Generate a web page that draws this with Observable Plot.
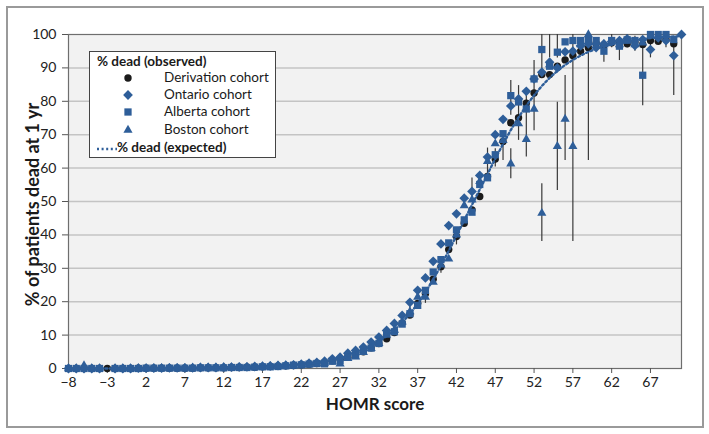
<!DOCTYPE html>
<html><head><meta charset="utf-8">
<script src="https://cdn.jsdelivr.net/npm/d3@7"></script>
<script src="https://cdn.jsdelivr.net/npm/@observablehq/plot@0.6"></script>
<style>
html,body{margin:0;padding:0;background:#fff;}
#wrap{position:relative;width:709px;height:434px;font-family:Lato,sans-serif;}
#border{position:absolute;left:6px;top:6px;width:694px;height:418px;border:2px solid #9a9a9a;}
#chart{position:absolute;left:0;top:0;}
#legend{position:absolute;left:89px;top:51px;width:187px;height:107px;background:#fff;border:1px solid #444;box-sizing:border-box;font-size:13.5px;color:#1a1a1a;}
#legend .t{position:absolute;left:7px;font-weight:bold;white-space:nowrap;}
#legend .r{position:absolute;left:74px;white-space:nowrap;}
#legend svg{position:absolute;}
</style></head>
<body>
<div id="wrap"><div id="border"></div><div id="chart"></div><div id="legend"></div></div>
<script>
const scores = [-8,-7,-6,-5,-4,-3,-2,-1,0,1,2,3,4,5,6,7,8,9,10,11,12,13,14,15,16,17,18,19,20,21,22,23,24,25,26,27,28,29,30,31,32,33,34,35,36,37,38,39,40,41,42,43,44,45,46,47,48,49,50,51,52,53,54,55,56,57,58,59,60,61,62,63,64,65,66,67,68,69,70,71];
const derivation = [
0,0,0,0,0,0,0,0,0,0.1,
0.1,0.1,0.1,0.1,0.1,0.1,0.1,0.2,0.2,0.2,
0.2,0.3,0.3,0.4,0.4,0.5,0.6,0.7,0.8,0.9,
1.1,1.3,1.5,1.9,2.3,2.8,3.4,4.2,5.0,6.2,
7.5,8.9,10.8,13.6,16.0,19.5,22.4,26.7,30.5,35.6,
39.5,43.5,47.5,51.5,57.5,62.7,68.0,73.6,75.1,79.4,
82.5,88.0,88.0,90.5,92.4,93.7,95.0,96.0,97.3,96.8,
97.5,97.7,97.2,97.8,97.0,98.2,98.0,98.6,97.2,null];
const ontario = [
0,0,0,0,0,null,0,0,0,0.1,
0.1,0.1,0.1,0.2,0.2,0.2,0.2,0.3,0.3,0.3,
0.4,0.4,0.5,0.5,0.6,0.7,0.8,0.9,1.0,1.1,
1.3,1.6,1.8,2.2,2.9,3.4,4.6,5.4,6.4,7.9,
9.4,11.4,13.5,15.9,19.8,23.4,27.1,32.1,37.3,42.8,
46.3,51.0,53.0,57.8,63.3,70.0,74.6,78.6,80.7,83.0,
86.7,88.7,91.7,90.0,94.8,95.0,96.6,97.2,96.1,97.2,
97.9,98.2,98.7,96.7,98.5,95.5,99.0,98.2,93.7,100];
const alberta = [
0,0,0,0,0,null,0,0,0,0,
0.1,0.1,0.1,0.1,0.1,0.1,0.1,0.2,0.2,0.2,
0.2,0.3,0.3,0.3,0.4,0.5,0.5,0.6,0.8,1.0,
1.1,1.3,1.5,1.4,2.2,2.4,3.4,3.9,5.4,6.1,
7.5,10.5,11.0,13.3,16.4,18.9,23.4,28.9,32.6,37.6,
41.5,44.5,46.8,55.1,57.1,64.0,70.3,81.7,79.8,77.7,
86.7,95.5,90.5,94.7,97.8,98.2,98.2,98.2,98.2,95.0,
98.2,96.5,98.4,98.2,87.8,100,100,100,98.5,null];
const boston = [
0,0,0.9,0,0,null,0,0,0,0,
0,0.1,0.1,0.1,0.1,0.1,0.2,0.2,0.2,0.2,
0.3,0.3,0.3,0.4,0.4,0.5,0.6,0.7,0.8,0.8,
1.0,1.2,1.4,1.6,2.0,1.4,3.0,3.5,4.8,6.0,
7.5,10.0,11.5,14.0,17.0,21.4,21.4,25.9,31.0,32.8,
40.0,48.8,50.5,56.0,62.0,67.3,68.3,61.3,73.3,68.6,
77.7,46.5,91.0,66.5,74.7,66.5,97.0,100,97.5,97.0,
98.0,97.0,98.0,97.0,97.5,null,null,null,null,null];
const expected = [
0,0,0,0,0,0,0,0,0,0.05,
0.05,0.06,0.07,0.08,0.1,0.12,0.14,0.17,0.2,0.24,
0.28,0.33,0.38,0.44,0.5,0.57,0.66,0.76,0.88,1.0,
1.2,1.4,1.7,2.0,2.5,3.0,3.7,4.5,5.5,6.7,
8.1,9.7,11.6,13.8,16.4,19.4,22.8,26.6,30.8,35.2,
39.8,44.4,49.0,53.6,58.2,62.8,67.2,71.4,75.2,78.7,
81.8,84.6,87.0,89.1,90.9,92.4,93.7,94.8,95.7,96.4,
97.0,97.5,97.9,98.3,98.6,98.9,99.1,99.3,99.4,99.5];
// 95% CI bars (score, low, high)
const ciScore = [36,38,40,42,44,46,47,48,49,49,50,51,52,53,53,54,55,55,56,57,59,60,61,62,63,64,65,66,67,68,69,70];
const ciLow   = [17,19.5,28.5,37,50,57.8,60.3,62.3,75.8,56.8,68.3,63.3,71.2,38,88,93,53.3,93,62.3,38,62.3,95.5,91.7,96,92.2,96,95,78.7,93,97,96,81.7];
const ciHigh  = [20,23.5,33.5,42,57,66,65.8,68.8,86.2,65.8,84.7,81.7,92.2,55.3,100,100,79.7,100,87.7,100,100,99,97.5,100,99,100,99.5,97,100,99.5,100,98.2];
const xTicks = [-8,-3,2,7,12,17,22,27,32,37,42,47,52,57,62,67];
const yTicks = [0,10,20,30,40,50,60,70,80,90,100];
const seriesNames = ["Derivation cohort","Ontario cohort","Alberta cohort","Boston cohort"];

const BLUE = "#2e5e99";
const rows = vals => scores.map((s,i)=>({s, v: vals[i]})).filter(d => d.v != null);
const ci = ciScore.map((s,i)=>({s, lo: ciLow[i], hi: ciHigh[i]}));
const fmt = d => d < 0 ? "\u2212" + (-d) : String(d);

const chart = Plot.plot({
  width: 709, height: 434,
  marginLeft: 68, marginRight: 28, marginTop: 34, marginBottom: 66,
  style: {fontFamily: "Lato, sans-serif", fontSize: "14px", color: "#222", background: "transparent"},
  x: {domain: [-8, 71], axis: null},
  y: {domain: [0, 100], axis: null},
  marks: [
    Plot.frame({fill: "#f2f2f2", stroke: null}),
    Plot.gridY(yTicks.filter(d => d > 0 && d < 100), {stroke: "#c4c4c4", strokeOpacity: 1, strokeWidth: 1.5}),
    Plot.frame({stroke: "#6e6e6e", strokeWidth: 1.2}),
    Plot.axisX(xTicks, {tickSize: 5, tickPadding: 4, tickFormat: fmt, stroke: "#555", fontSize: 14, label: null}),
    Plot.axisY(yTicks, {tickSize: 6, tickPadding: 6, stroke: "#555", fontSize: 14, label: null}),
    Plot.ruleX(ci, {x: "s", y1: "lo", y2: "hi", stroke: "#3a3a3a", strokeWidth: 1.2}),
    Plot.dot(rows(derivation), {x: "s", y: "v", r: 3.7, fill: "#1b1b1b", symbol: "circle"}),
    Plot.dot(rows(ontario), {x: "s", y: "v", r: 4.4, fill: BLUE, symbol: "diamond2"}),
    Plot.dot(rows(alberta), {x: "s", y: "v", r: 4.1, fill: BLUE, symbol: "square"}),
    Plot.dot(rows(boston), {x: "s", y: "v", r: 3.4, fill: BLUE, symbol: "triangle"}),
    Plot.line(rows(expected), {x: "s", y: "v", stroke: BLUE, strokeWidth: 2.4, strokeDasharray: "2,2.6"}),
    Plot.text(["HOMR score"], {frameAnchor: "bottom", dy: 41, fontWeight: "bold", fontSize: 17, fill: "#1a1a1a"}),
    Plot.text(["% of patients dead at 1 yr"], {frameAnchor: "left", textAnchor: "middle", dx: -35, dy: 3, rotate: -90, fontWeight: "bold", fontSize: 18, fill: "#1a1a1a"})
  ]
});
document.getElementById("chart").appendChild(chart);

// legend
const lg = document.getElementById("legend");
const add = (html) => lg.insertAdjacentHTML("beforeend", html);
add(`<div class="t" style="top:1px">% dead (observed)</div>`);
const syms = [["circle","#1b1b1b",3.7],["diamond2",BLUE,4.4],["square",BLUE,4.1],["triangle",BLUE,3.4]];
const symMap = {circle: d3.symbolCircle, diamond2: d3.symbolDiamond2, square: d3.symbolSquare, triangle: d3.symbolTriangle};
const rowTop = [17, 34, 51, 69];
seriesNames.forEach((name, i) => {
  const [sym, col, r] = syms[i];
  const p = d3.symbol(symMap[sym], Math.PI * r * r)();
  add(`<svg width="20" height="20" style="left:28px;top:${rowTop[i]-1}px"><path transform="translate(10,10)" d="${p}" fill="${col}"/></svg>`);
  add(`<div class="r" style="top:${rowTop[i]}px">${name}</div>`);
});
add(`<svg width="24" height="10" style="left:6px;top:92px"><line x1="1" y1="5" x2="21" y2="5" stroke="${BLUE}" stroke-width="2.4" stroke-dasharray="2,2.6"/></svg>`);
add(`<div class="t" style="top:87px;left:27px">% dead (expected)</div>`);
</script>
</body></html>
